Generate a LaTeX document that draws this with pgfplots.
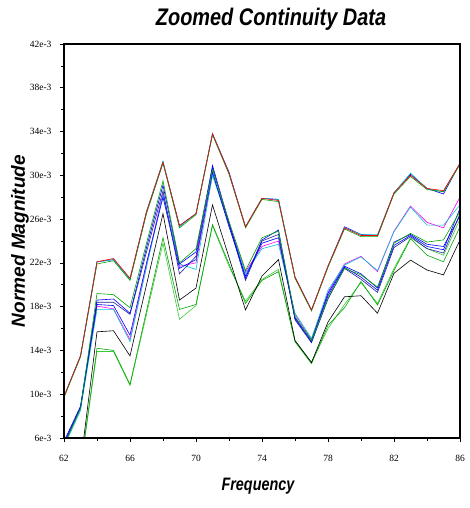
\documentclass[border=0pt]{standalone}
\usepackage{pgfplots}
\pgfplotsset{compat=1.18}
\usepackage{fontspec}
\setmainfont{Liberation Serif}
\newfontfamily\labelfont[FakeStretch=0.8]{Liberation Sans}
\newfontfamily\titlefont[FakeStretch=0.83]{Liberation Sans}
\newfontfamily\ylabfont{Liberation Sans}
\definecolor{cgreen}{RGB}{0,165,0}
\definecolor{lgreen}{RGB}{60,200,60}
\definecolor{cblue}{RGB}{0,0,255}
\definecolor{cnavy}{RGB}{30,30,160}
\definecolor{ccyan}{RGB}{0,200,210}
\definecolor{cmag}{RGB}{255,0,255}
\definecolor{cred}{RGB}{255,0,0}
\begin{document}
\begin{tikzpicture}
\path[use as bounding box] (-64pt,-70pt) -- (405pt,-70pt) -- (405pt,438pt) -- (-64pt,438pt) -- cycle;
\begin{axis}[
  name=ax,
  at={(0,0)}, anchor=south west,
  width=396pt, height=394pt, scale only axis,
  xmin=62, xmax=86, ymin=6, ymax=42,
  xtick={62,66,...,86}, minor xtick={64,68,...,84},
  ytick={6,10,...,42},
  yticklabels={6e-3,10e-3,14e-3,18e-3,22e-3,26e-3,30e-3,34e-3,38e-3,42e-3},
  minor ytick={8,12,...,40},
  tick align=outside, xtick pos=left, ytick pos=left,
  major tick length=4pt, minor tick length=3pt,
  tick style={black, line width=0.7pt},
  separate axis lines,
  axis line style={draw=black, line width=1.2pt},
  ticklabel style={font=\fontsize{9.5}{10}\selectfont},
  xticklabel style={yshift=-10pt},
  yticklabel style={xshift=-5pt},
  /pgf/number format/assume math mode=true,
  title={\titlefont\fontsize{24}{26}\selectfont\bfseries\itshape Zoomed Continuity Data},
  title style={at={([xshift=9pt,yshift=12pt]axis description cs:0.5,1)}, anchor=base},
  xlabel={\labelfont\fontsize{18}{20}\selectfont\bfseries\itshape Frequency},
  xlabel style={at={([xshift=-4pt,yshift=-52pt]axis description cs:0.5,0)}, anchor=base},
  ylabel={\ylabfont\fontsize{19}{20}\selectfont\bfseries\itshape Normed Magnitude},
  ylabel style={at={([xshift=-39pt]axis description cs:0,0.5)}, anchor=base, rotate=0},
  every axis plot/.append style={line width=0.6pt, mark=none},
]
% lower group
\addplot[lgreen] coordinates {(62,2)(63,3.1)(64,13.9)(65,13.9)(66,10.8)(67,17.3)(68,23.8)(69,16.85)(70,18.1)(71,25.4)(72,21.7)(73,18.5)(74,20.5)(75,21.4)(76,14.9)(77,12.9)(78,16.0)(79,18.2)(80,20.2)(81,18.3)(82,21.5)(83,24.3)(84,23.3)(85,22.7)(86,26.0)};
\addplot[cgreen] coordinates {(62,2)(63,3.3)(64,14.2)(65,14.0)(66,10.9)(67,17.6)(68,24.3)(69,17.75)(70,18.2)(71,25.5)(72,21.9)(73,18.3)(74,20.4)(75,21.2)(76,14.8)(77,12.8)(78,16.3)(79,17.9)(80,20.3)(81,18.15)(82,21.3)(83,24.2)(84,22.7)(85,22.1)(86,25.3)};
\addplot[black] coordinates {(62,2)(63,3.6)(64,15.7)(65,15.8)(66,13.5)(67,20.0)(68,26.5)(69,18.6)(70,19.7)(71,27.3)(72,22.5)(73,17.7)(74,20.8)(75,22.3)(76,14.9)(77,12.9)(78,16.6)(79,18.9)(80,19.0)(81,17.4)(82,21.05)(83,22.25)(84,21.35)(85,20.9)(86,24.1)};
% middle group
\addplot[cmag] coordinates {(62,5.4)(63,8.7)(64,18.05)(65,17.8)(66,15.0)(67,21.8)(68,28.4)(69,21.7)(70,22.0)(71,30.1)(72,25.6)(73,21.2)(74,23.5)(75,24.0)(76,17.3)(77,15.0)(78,19.3)(79,21.9)(80,22.6)(81,21.2)(82,24.9)(83,27.2)(84,25.7)(85,25.2)(86,28.0)};
\addplot[ccyan] coordinates {(62,5.2)(63,8.5)(64,17.75)(65,17.75)(66,14.8)(67,21.6)(68,28.2)(69,21.9)(70,21.4)(71,30.0)(72,25.5)(73,21.05)(74,23.3)(75,23.7)(76,17.4)(77,15.1)(78,19.5)(79,21.8)(80,22.55)(81,21.3)(82,24.85)(83,27.1)(84,25.45)(85,25.45)(86,27.3)};
\addplot[cblue] coordinates {(62,5.5)(63,8.8)(64,18.2)(65,18.1)(66,15.4)(67,22.0)(68,28.0)(69,21.5)(70,22.3)(71,30.3)(72,25.3)(73,20.8)(74,23.8)(75,24.3)(76,17.0)(77,14.9)(78,19.2)(79,21.7)(80,21.0)(81,19.7)(82,23.9)(83,24.6)(84,23.7)(85,23.5)(86,26.3)};
\addplot[cnavy] coordinates {(62,5.5)(63,8.8)(64,18.4)(65,18.4)(66,17.3)(67,23.0)(68,28.6)(69,21.0)(70,22.6)(71,30.7)(72,25.5)(73,20.4)(74,24.0)(75,24.6)(76,16.8)(77,14.7)(78,18.7)(79,21.5)(80,20.5)(81,19.3)(82,23.4)(83,24.4)(84,23.3)(85,22.9)(86,26.5)};
\addplot[cblue] coordinates {(62,5.7)(63,8.9)(64,18.6)(65,18.7)(66,17.4)(67,23.4)(68,29.1)(69,21.9)(70,23.0)(71,30.9)(72,25.7)(73,20.6)(74,24.1)(75,25.0)(76,16.9)(77,14.8)(78,19.0)(79,21.6)(80,20.7)(81,19.5)(82,23.6)(83,24.5)(84,23.5)(85,23.2)(86,27.0)};
\addplot[cgreen] coordinates {(62,5.3)(63,8.7)(64,19.2)(65,19.1)(66,17.9)(67,23.8)(68,29.5)(69,22.0)(70,23.3)(71,30.5)(72,25.8)(73,21.3)(74,24.3)(75,24.9)(76,17.1)(77,14.9)(78,18.8)(79,21.5)(80,20.9)(81,19.8)(82,23.8)(83,24.7)(84,23.9)(85,24.1)(86,26.7)};
% top group
\addplot[cblue] coordinates {(62,9.8)(63,13.5)(64,22.1)(65,22.3)(66,20.5)(67,26.6)(68,31.2)(69,25.4)(70,26.5)(71,33.8)(72,30.3)(73,25.3)(74,27.9)(75,27.8)(76,20.7)(77,17.7)(78,21.7)(79,25.3)(80,24.6)(81,24.5)(82,28.4)(83,30.1)(84,28.8)(85,28.3)(86,31.1)};
\addplot[ccyan] coordinates {(62,9.8)(63,13.5)(64,22.1)(65,22.3)(66,20.5)(67,26.7)(68,31.3)(69,25.3)(70,26.5)(71,33.8)(72,30.2)(73,25.3)(74,27.9)(75,27.8)(76,20.7)(77,17.7)(78,21.7)(79,25.2)(80,24.6)(81,24.6)(82,28.4)(83,30.2)(84,28.8)(85,28.5)(86,31.1)};
\addplot[cgreen] coordinates {(62,9.7)(63,13.4)(64,21.9)(65,22.2)(66,20.4)(67,26.5)(68,31.1)(69,25.2)(70,26.4)(71,33.7)(72,30.1)(73,25.2)(74,27.8)(75,27.6)(76,20.6)(77,17.6)(78,21.6)(79,25.1)(80,24.4)(81,24.4)(82,28.3)(83,29.9)(84,28.7)(85,28.5)(86,31.0)};
\addplot[cred] coordinates {(62,9.8)(63,13.5)(64,22.1)(65,22.4)(66,20.6)(67,26.7)(68,31.2)(69,25.4)(70,26.5)(71,33.8)(72,30.2)(73,25.3)(74,27.9)(75,27.7)(76,20.7)(77,17.7)(78,21.7)(79,25.2)(80,24.5)(81,24.5)(82,28.4)(83,30.0)(84,28.8)(85,28.6)(86,31.1)};
\end{axis}
\draw[black, line width=1.2pt, line join=miter] (ax.south west) -- (ax.south east) -- (ax.north east) -- (ax.north west) -- cycle;
\end{tikzpicture}
\end{document}
